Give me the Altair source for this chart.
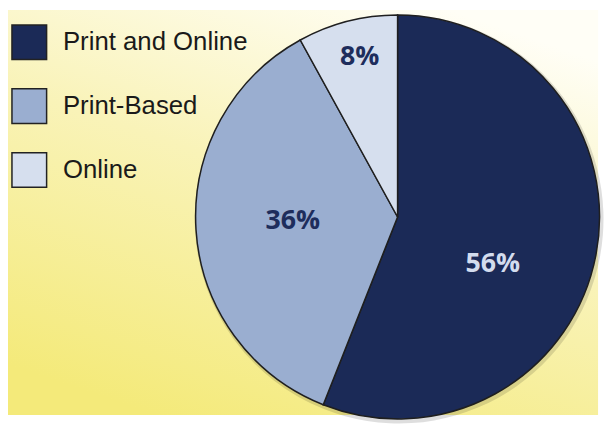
import altair as alt
import pandas as pd

categories = ["Print and Online", "Print-Based", "Online"]
shares = [56, 36, 8]
labels = ["56%", "36%", "8%"]
slice_colors = ["#1B2A57", "#9AAED0", "#D6DFEE"]
label_colors = ["#D3DCEE", "#1E2D5C", "#1E2D5C"]

W, H = 596, 409
CX, CY = 393.5, 209
R = 204

df = pd.DataFrame({"category": categories, "share": shares,
                   "label": labels, "order": list(range(len(categories)))})

bg = alt.Chart(pd.DataFrame({"k": [0]})).mark_rect(
    color=alt.Gradient(
        gradient="linear", x1=0.75, y1=0, x2=0.25, y2=1,
        stops=[alt.GradientStop(color="#FFFEF6", offset=0),
               alt.GradientStop(color="#F9F3B8", offset=0.45),
               alt.GradientStop(color="#F4EA7A", offset=1)])
).encode(x=alt.value(0), x2=alt.value(W), y=alt.value(0), y2=alt.value(H))

theta_scale = alt.Scale(domain=[0, 100])

shadow = alt.Chart(df).mark_arc(outerRadius=R + 2.5, color="#000000", opacity=0.13).encode(
    theta=alt.Theta("share:Q", stack=True, scale=theta_scale),
    order=alt.Order("order:Q"),
    x=alt.value(CX + 1.5), y=alt.value(CY + 2),
)

pie = alt.Chart(df).mark_arc(outerRadius=R, stroke="#1f1f1f", strokeWidth=1.5).encode(
    theta=alt.Theta("share:Q", stack=True, scale=theta_scale),
    order=alt.Order("order:Q"),
    x=alt.value(CX), y=alt.value(CY),
    color=alt.Color("category:N", sort=categories,
                    scale=alt.Scale(domain=categories, range=slice_colors),
                    legend=alt.Legend(orient="none", legendX=3, legendY=14, title=None,
                                      padding=0, symbolType="square", symbolSize=1225,
                                      symbolStrokeColor="#222222", symbolStrokeWidth=1.5,
                                      symbolOpacity=1,
                                      labelFont="Liberation Sans", labelFontSize=26,
                                      labelColor="#1a1a1a", labelOffset=15.5,
                                      rowPadding=23.5, labelLimit=400)),
)

txt_base = alt.Chart(df).transform_window(
    cum="sum(share)", sort=[alt.SortField("order")]
).transform_calculate(mid="datum.cum - datum.share / 2")

placements = [(103, -5, 28), (108, 2, -3), (166, 3, -1)]
texts = []
for i, (rad, dx, dy) in enumerate(placements):
    texts.append(
        txt_base.transform_filter(alt.datum.category == categories[i]).mark_text(
            radius=rad, dx=dx, dy=dy, font="Open Sans", fontWeight="bold",
            fontSize=27, color=label_colors[i], baseline="middle", align="center"
        ).encode(theta=alt.Theta("mid:Q", scale=theta_scale), text="label:N",
                 x=alt.value(CX), y=alt.value(CY))
    )

chart = alt.layer(bg, shadow, pie, *texts).properties(
    width=W, height=H, padding=0
).configure_view(stroke=None)

chart.save("out.html", embed_options={"renderer": "svg", "actions": False})
